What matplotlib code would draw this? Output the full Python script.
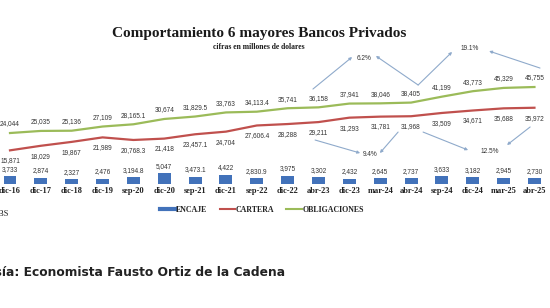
import matplotlib
matplotlib.use("Agg")
import matplotlib.pyplot as plt
from matplotlib.lines import Line2D

# data (millones de dolares)
periodos = ["dic-16", "dic-17", "dic-18", "dic-19", "sep-20", "dic-20", "sep-21", "dic-21",
            "sep-22", "dic-22", "abr-23", "dic-23", "mar-24", "abr-24", "sep-24", "dic-24",
            "mar-25", "abr-25"]
encaje = [3733, 2874, 2327, 2476, 3194.8, 5047, 3473.1, 4422, 2830.9, 3975, 3302, 2432,
          2645, 2737, 3633, 3182, 2945, 2730]
cartera = [15871, 18029, 19867, 21989, 20768.3, 21418, 23457.1, 24704, 27606.4, 28288,
           29211, 31293, 31781, 31968, 33509, 34671, 35688, 35972]
obligaciones = [24044, 25035, 25136, 27109, 28165.1, 30674, 31829.5, 33763, 34113.4, 35741,
                36158, 37941, 38046, 38405, 41199, 43773, 45329, 45755]

# growth call-outs: (text, text position, [(arrow start, arrow tip), ...]) in data units
variaciones = [
    ("6.2%", (11.47, 59400), [((9.82, 44800), (11.09, 59900)), ((13.23, 46700), (11.86, 60400))]),
    ("19.1%", (14.9, 64150), [((13.23, 46700), (14.33, 62300)), ((17.18, 54700), (15.53, 62700))]),
    ("9.4%", (11.67, 13700), [((9.89, 20750), (11.35, 14600)), ((12.58, 24500), (11.99, 14600))]),
    ("12.5%", (15.56, 15100), [((13.39, 24500), (14.85, 16000)), ((16.86, 26900), (16.11, 18400))]),
]

c_enc = "#4272BA"
c_car = "#C0504D"
c_obl = "#9BBB59"
c_arrow = "#8FAACB"
num_font = dict(family="Liberation Sans", fontsize=4.7, color="#333333")


def fmt(v):
    if float(v).is_integer():
        return f"{v:,.0f}"
    return f"{v:,.1f}"


fig = plt.figure(figsize=(5.5, 3.08), dpi=100)
ax = fig.add_axes([-0.00987, 0.4026, 1.00965, 0.5506])
x = list(range(len(periodos)))

ax.bar(x, encaje, width=0.42, color=c_enc, zorder=2)
ax.plot(x, cartera, color=c_car, lw=1.6, zorder=3)
ax.plot(x, obligaciones, color=c_obl, lw=1.6, zorder=3)

for i in x:
    ax.annotate(fmt(encaje[i]), (i, encaje[i]), xytext=(0, 5), textcoords="offset points",
                ha="center", va="center", **num_font)
    ax.annotate(fmt(cartera[i]), (i, cartera[i]), xytext=(0, -7.5), textcoords="offset points",
                ha="center", va="center", **num_font)
    ax.annotate(fmt(obligaciones[i]), (i, obligaciones[i]), xytext=(0, 6.5), textcoords="offset points",
                ha="center", va="center", **num_font)

for txt, pos, flechas in variaciones:
    ax.text(pos[0], pos[1], txt, ha="center", va="center", **num_font)
    for ini, fin in flechas:
        ax.annotate("", xy=fin, xytext=ini,
                    arrowprops=dict(arrowstyle="-|>", color=c_arrow, lw=0.8,
                                    mutation_scale=4, shrinkA=0, shrinkB=0))

ax.set_xlim(-0.5, len(periodos) - 0.5)
ax.set_ylim(0, 80000)
ax.set_xticks(x)
ax.set_xticklabels(periodos, family="Liberation Serif", fontweight="bold", fontsize=6, color="#222222")
ax.tick_params(axis="x", length=0, pad=2.2)
ax.set_yticks([])
for s in ax.spines.values():
    s.set_visible(False)

fig.text(0.471, 1 - 33 / 308, "Comportamiento 6 mayores Bancos Privados", ha="center", va="center",
         family="Liberation Serif", fontweight="bold", fontsize=11, color="#1a1a1a")
fig.text(0.471, 1 - 47 / 308, "cifras en millones de dolares", ha="center", va="center",
         family="Liberation Serif", fontweight="bold", fontsize=5.5, color="#1a1a1a")

handles = [Line2D([], [], color=c_enc, lw=3), Line2D([], [], color=c_car, lw=1.5),
           Line2D([], [], color=c_obl, lw=1.5)]
fig.legend(handles, ["ENCAJE", "CARTERA", "OBLIGACIONES"], loc="center",
           bbox_to_anchor=(262 / 550, 1 - 210 / 308), ncol=3, frameon=False,
           prop=dict(family="Liberation Serif", weight="bold", size=5.7),
           handlelength=2.0, handletextpad=0.05, columnspacing=1.5, labelcolor="#222222")

# the screenshot is cropped on the left, so these texts run off the edge
fig.text(8 / 550, 1 - 214 / 308, "Fuente: SBS", ha="right", va="center",
         family="Liberation Serif", fontsize=6, color="#222222")
fig.text(285 / 550, 1 - 273 / 308, "Cortesía: Economista Fausto Ortiz de la Cadena", ha="right",
         va="center", family="DejaVu Sans", fontweight="bold", fontsize=8.8, color="#222222")

fig.savefig("out.png", dpi=100, facecolor="white")
